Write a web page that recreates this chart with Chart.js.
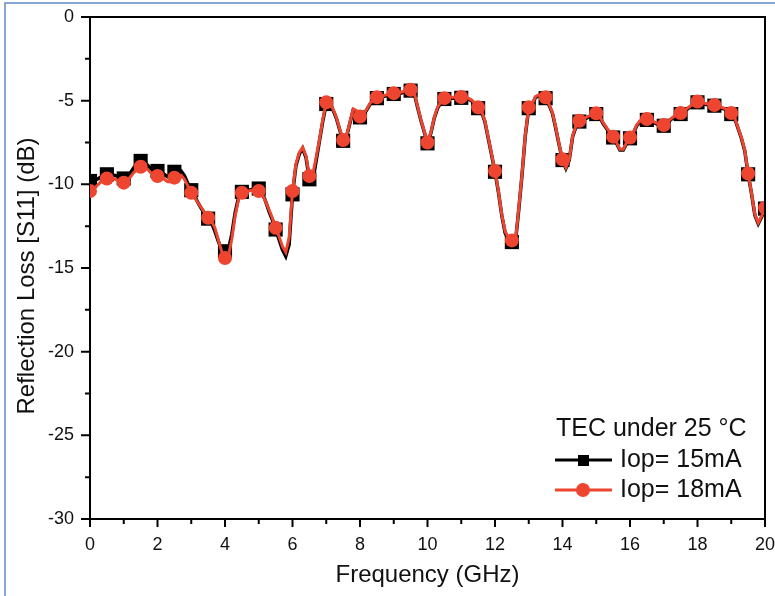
<!DOCTYPE html>
<html>
<head>
<meta charset="utf-8">
<script src="https://cdn.jsdelivr.net/npm/chart.js@4.4.1/dist/chart.umd.min.js"></script>
<style>
  html, body { margin: 0; padding: 0; background: #fff; }
  #wrap { width: 775px; height: 596px; position: relative; }
</style>
</head>
<body>
<div id="wrap"><canvas id="c" width="775" height="596"></canvas></div>
<script>
// Frequency grid (GHz)
const freqGHz = [
  0.0,0.1,0.2,0.3,0.4,0.5,0.6,0.7,0.8,0.9,
  1.0,1.1,1.2,1.3,1.4,1.5,1.6,1.7,1.8,1.9,
  2.0,2.1,2.2,2.3,2.4,2.5,2.6,2.7,2.8,2.9,
  3.0,3.1,3.2,3.3,3.4,3.5,3.6,3.7,3.8,3.9,
  4.0,4.1,4.2,4.3,4.4,4.5,4.6,4.7,4.8,4.9,
  5.0,5.1,5.2,5.3,5.4,5.5,5.6,5.7,5.8,5.9,
  6.0,6.1,6.2,6.3,6.4,6.5,6.6,6.7,6.8,6.9,
  7.0,7.1,7.2,7.3,7.4,7.5,7.6,7.7,7.8,7.9,
  8.0,8.1,8.2,8.3,8.4,8.5,8.6,8.7,8.8,8.9,
  9.0,9.1,9.2,9.3,9.4,9.5,9.6,9.7,9.8,9.9,
  10.0,10.1,10.2,10.3,10.4,10.5,10.6,10.7,10.8,10.9,
  11.0,11.1,11.2,11.3,11.4,11.5,11.6,11.7,11.8,11.9,
  12.0,12.1,12.2,12.3,12.4,12.5,12.6,12.7,12.8,12.9,
  13.0,13.1,13.2,13.3,13.4,13.5,13.6,13.7,13.8,13.9,
  14.0,14.1,14.2,14.3,14.4,14.5,14.6,14.7,14.8,14.9,
  15.0,15.1,15.2,15.3,15.4,15.5,15.6,15.7,15.8,15.9,
  16.0,16.1,16.2,16.3,16.4,16.5,16.6,16.7,16.8,16.9,
  17.0,17.1,17.2,17.3,17.4,17.5,17.6,17.7,17.8,17.9,
  18.0,18.1,18.2,18.3,18.4,18.5,18.6,18.7,18.8,18.9,
  19.0,19.1,19.2,19.3,19.4,19.5,19.6,19.7,19.8,19.9,
  20.0
];

// |S11| in dB, Iop = 15 mA
const s11Iop15 = [
  -9.8,-9.75,-9.7,-9.6,-9.5,-9.4,-9.4,-9.45,-9.5,-9.6,
  -9.65,-9.55,-9.3,-9.0,-8.75,-8.6,-8.6,-8.85,-9.05,-9.15,
  -9.2,-9.25,-9.4,-9.55,-9.5,-9.25,-9.2,-9.2,-9.5,-9.95,
  -10.35,-10.7,-11.1,-11.45,-11.75,-12.05,-12.3,-12.8,-13.4,-13.9,
  -14.0,-13.9,-13.0,-11.7,-10.8,-10.45,-10.4,-10.35,-10.3,-10.25,
  -10.25,-10.5,-11.0,-11.6,-12.1,-12.7,-13.3,-13.9,-14.3,-13.6,
  -10.6,-8.9,-8.2,-7.85,-8.4,-9.7,-9.8,-8.6,-7.4,-6.2,
  -5.2,-5.15,-5.55,-6.05,-6.75,-7.4,-7.15,-6.35,-5.55,-5.65,
  -6.0,-5.85,-5.55,-5.2,-5.0,-4.85,-4.8,-4.75,-4.7,-4.65,
  -4.6,-4.55,-4.55,-4.5,-4.45,-4.4,-4.5,-5.35,-6.15,-6.85,
  -7.55,-6.95,-6.05,-5.45,-5.1,-4.9,-4.9,-4.85,-4.85,-4.83,
  -4.83,-4.85,-4.9,-5.0,-5.2,-5.45,-5.65,-6.25,-7.25,-8.25,
  -9.25,-10.45,-11.85,-12.9,-13.3,-13.45,-13.55,-11.6,-9.45,-7.05,
  -5.45,-5.25,-4.8,-4.7,-4.75,-4.85,-5.25,-5.75,-6.65,-7.65,
  -8.55,-9.05,-8.55,-7.15,-6.55,-6.25,-6.1,-6.05,-5.95,-5.85,
  -5.8,-5.95,-6.35,-6.65,-6.95,-7.2,-7.55,-7.95,-7.95,-7.55,
  -7.25,-6.95,-6.5,-6.25,-6.15,-6.15,-6.2,-6.3,-6.4,-6.45,
  -6.5,-6.35,-6.15,-6.0,-5.85,-5.8,-5.65,-5.5,-5.35,-5.2,
  -5.1,-5.1,-5.2,-5.25,-5.3,-5.3,-5.35,-5.45,-5.5,-5.65,
  -5.8,-6.05,-6.65,-7.25,-8.0,-9.4,-10.55,-11.85,-12.35,-11.95,
  -11.45
];

// |S11| in dB, Iop = 18 mA
const s11Iop18 = [
  -10.4,-10.3,-10.1,-9.9,-9.75,-9.65,-9.6,-9.65,-9.75,-9.85,
  -9.9,-9.8,-9.55,-9.3,-9.1,-8.95,-8.95,-9.1,-9.3,-9.45,
  -9.5,-9.55,-9.7,-9.85,-9.85,-9.6,-9.5,-9.45,-9.7,-10.1,
  -10.5,-10.8,-11.1,-11.4,-11.7,-12.0,-12.2,-12.6,-13.3,-14.0,
  -14.4,-14.3,-13.3,-11.9,-10.9,-10.5,-10.45,-10.4,-10.35,-10.35,
  -10.4,-10.6,-11.0,-11.5,-12.0,-12.6,-13.1,-13.7,-14.05,-13.2,
  -10.4,-8.8,-8.1,-7.8,-8.3,-9.5,-9.4,-8.4,-7.3,-6.1,
  -5.1,-5.1,-5.5,-6.0,-6.7,-7.35,-7.1,-6.3,-5.5,-5.6,
  -5.95,-5.8,-5.5,-5.15,-4.95,-4.8,-4.75,-4.7,-4.65,-4.6,
  -4.55,-4.5,-4.5,-4.45,-4.4,-4.35,-4.45,-5.3,-6.1,-6.8,
  -7.5,-6.9,-6.0,-5.4,-5.05,-4.85,-4.85,-4.8,-4.8,-4.78,
  -4.78,-4.8,-4.85,-4.95,-5.15,-5.4,-5.6,-6.2,-7.2,-8.2,
  -9.2,-10.4,-11.8,-12.8,-13.2,-13.35,-13.5,-11.5,-9.4,-7.0,
  -5.4,-5.2,-4.75,-4.65,-4.7,-4.8,-5.2,-5.7,-6.6,-7.6,
  -8.5,-9.0,-8.5,-7.1,-6.5,-6.2,-6.05,-6.0,-5.9,-5.8,
  -5.75,-5.9,-6.3,-6.6,-6.9,-7.15,-7.5,-7.9,-7.9,-7.5,
  -7.2,-6.9,-6.45,-6.2,-6.1,-6.1,-6.15,-6.25,-6.35,-6.4,
  -6.45,-6.3,-6.1,-5.95,-5.8,-5.74,-5.6,-5.45,-5.3,-5.15,
  -5.05,-5.05,-5.15,-5.2,-5.25,-5.26,-5.3,-5.4,-5.45,-5.6,
  -5.74,-6.0,-6.6,-7.2,-7.95,-9.35,-10.5,-11.8,-12.3,-11.9,
  -11.4
];

const xTickValues = [0, 2, 4, 6, 8, 10, 12, 14, 16, 18, 20];
const yTickValues = [0, -5, -10, -15, -20, -25, -30];
const legendTitle = 'TEC under 25 \u00B0C';
const seriesNames = ['Iop= 15mA', 'Iop= 18mA'];

const RED = '#EE4530';
const FONT = "'Liberation Sans', Arial, sans-serif";

function toPoints(vals) {
  return freqGHz.map((f, i) => ({ x: f, y: vals[i] }));
}
// a marker every 0.5 GHz
const markerRadius = r => ctx => (ctx.dataIndex % 5 === 0 ? r : 0);

// frame, minor ticks, y title and the legend
const decorations = {
  id: 'decorations',
  afterDraw(chart) {
    const c = chart.ctx;
    const a = chart.chartArea;
    const xs = chart.scales.x, ys = chart.scales.y;
    c.save();
    // outer page frame
    c.strokeStyle = '#5F8AC6';
    c.lineWidth = 1.5;
    c.beginPath();
    c.moveTo(5, 596); c.lineTo(5, 3); c.lineTo(775, 3);
    c.stroke();

    // top and right edges of plot box
    c.strokeStyle = '#000';
    c.lineWidth = 2;
    c.beginPath();
    c.moveTo(a.left, a.top); c.lineTo(a.right, a.top); c.lineTo(a.right, a.bottom);
    c.stroke();

    // y ticks, outward
    c.lineWidth = 2;
    c.beginPath();
    for (let v = 0; v >= -30; v -= 2.5) {
      const py = ys.getPixelForValue(v);
      const len = (v % 5 === 0) ? 9 : 5;
      c.moveTo(a.left, py); c.lineTo(a.left - len, py);
    }
    // x ticks, outward
    for (let v = 0; v <= 20; v += 1) {
      const px = xs.getPixelForValue(v);
      const len = (v % 2 === 0) ? 8 : 5;
      c.moveTo(px, a.bottom); c.lineTo(px, a.bottom + len);
    }
    c.stroke();

    // y axis title
    c.fillStyle = '#111';
    c.font = '24px ' + FONT;
    c.textAlign = 'center';
    c.textBaseline = 'middle';
    c.translate(27, 276);
    c.rotate(-Math.PI / 2);
    c.fillText('Reflection Loss [S11] (dB)', 0, 0);
    c.setTransform(1, 0, 0, 1, 0, 0);

    // legend
    c.textAlign = 'left';
    c.textBaseline = 'middle';
    c.font = '25px ' + FONT;
    c.fillStyle = '#111';
    c.fillText(legendTitle, 556, 429);
    const rows = [
      { y: 460, color: '#000', shape: 'rect', label: seriesNames[0] },
      { y: 490, color: RED, shape: 'circle', label: seriesNames[1] }
    ];
    rows.forEach(r => {
      c.strokeStyle = r.color;
      c.lineWidth = 3;
      c.beginPath(); c.moveTo(555, r.y); c.lineTo(612, r.y); c.stroke();
      c.fillStyle = r.color;
      if (r.shape === 'rect') {
        c.fillRect(578, r.y - 5, 11, 11);
      } else {
        c.beginPath(); c.arc(583, r.y, 7, 0, Math.PI * 2); c.fill();
      }
      c.fillStyle = '#111';
      c.fillText(r.label, 620, r.y);
    });
    c.restore();
  }
};

new Chart(document.getElementById('c'), {
  type: 'line',
  data: {
    datasets: [
      {
        label: seriesNames[1],
        data: toPoints(s11Iop18),
        borderColor: RED,
        backgroundColor: RED,
        borderWidth: 3,
        pointStyle: 'circle',
        pointRadius: markerRadius(7),
        pointBorderWidth: 0,
        pointHoverRadius: 0,
        tension: 0,
        order: 0
      },
      {
        label: seriesNames[0],
        data: toPoints(s11Iop15),
        borderColor: '#000',
        backgroundColor: '#000',
        borderWidth: 3.5,
        pointStyle: 'rect',
        pointRadius: markerRadius(10),
        pointBorderWidth: 0,
        pointHoverRadius: 0,
        tension: 0,
        order: 1
      }
    ]
  },
  options: {
    responsive: false,
    animation: false,
    events: [],
    layout: { padding: { top: 17, right: 10, left: 0, bottom: 0 } },
    plugins: { legend: { display: false }, tooltip: { enabled: false } },
    scales: {
      x: {
        type: 'linear',
        min: 0, max: 20,
        afterBuildTicks: s => { s.ticks = xTickValues.map(v => ({ value: v })); },
        afterFit: s => { s.height = 77; s.paddingLeft = 0; s.paddingRight = 0; },
        grid: { display: true, drawOnChartArea: false, drawTicks: false },
        border: { display: true, color: '#000', width: 2 },
        ticks: { color: '#111', font: { family: FONT, size: 18 }, padding: 15, maxRotation: 0 },
        title: {
          display: true, text: 'Frequency (GHz)', color: '#111',
          font: { family: FONT, size: 24 }, padding: { top: 0, bottom: 6 }
        }
      },
      y: {
        type: 'linear',
        min: -30, max: 0,
        afterBuildTicks: s => { s.ticks = yTickValues.map(v => ({ value: v })); },
        afterFit: s => { s.width = 90; s.paddingTop = 0; s.paddingBottom = 0; },
        grid: { display: true, drawOnChartArea: false, drawTicks: false },
        border: { display: true, color: '#000', width: 2 },
        ticks: { color: '#111', font: { family: FONT, size: 18 }, padding: 16 }
      }
    }
  },
  plugins: [decorations]
});
</script>
</body>
</html>
